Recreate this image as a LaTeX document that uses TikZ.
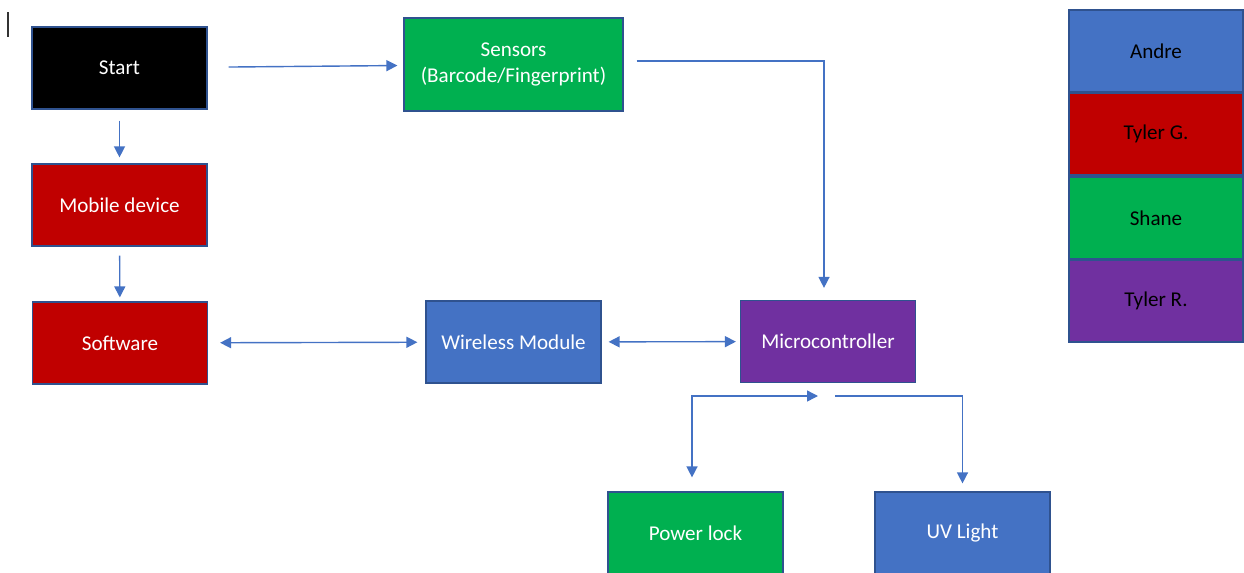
\documentclass[tikz,border=0pt]{standalone}
\usepackage{fontspec}
\setmainfont{Carlito}
\usetikzlibrary{arrows.meta}
\definecolor{offblue}{HTML}{4472C4}
\definecolor{offred}{HTML}{C00000}
\definecolor{offgreen}{HTML}{00B050}
\definecolor{offpurple}{HTML}{7030A0}
\definecolor{offedge}{HTML}{2F528F}
\begin{document}
\begin{tikzpicture}[x=0.02cm,y=-0.02cm]\fontsize{12}{14.5}\selectfont
      \tikzstyle{block}=[draw=offedge,line width=0.7pt,text=white,minimum width=3.5cm,minimum height=1.64cm,inner sep=2pt,align=center]
      \tikzstyle{member}=[block,text=black,minimum width=3.48cm,minimum height=1.64cm]
      \tikzstyle{link}=[draw=offblue,line width=0.8pt,-{Triangle[length=2.2mm,width=2.2mm]}]
      \tikzstyle{dlink}=[link,{Triangle[length=2.2mm,width=2.2mm]}-{Triangle[length=2.2mm,width=2.2mm]}]
      \useasboundingbox (0,0) rectangle (1244,572);
      \draw[line width=0.6pt,black!80] (8,12) -- (8,37);
      \node[block,fill=black] (start) at (119.5,68) {Start};
      \node[block,fill=offgreen,minimum width=4.38cm,minimum height=1.86cm] (sensors) at (513.5,64.5) {Sensors\\(Barcode/Fingerprint)};
      \node[block,fill=offred] (mobile) at (119.5,205) {Mobile device};
      \node[block,fill=offred] (software) at (120,343) {Software};
      \node[block,fill=offblue] (wireless) at (513.5,342) {Wireless Module};
      \node[block,fill=offpurple] (micro) at (828,341.5) {Microcontroller};
      \node[block,fill=offgreen] (lock) at (695.5,533) {Power lock};
      \node[block,fill=offblue] (uv) at (962.5,533) {UV Light};
      \node[member,fill=offblue] (andre) at (1156,51) {Andre};
      \node[member,fill=offred] (tylerg) at (1156,134) {Tyler G.};
      \node[member,fill=offgreen] (shane) at (1156,218) {Shane};
      \node[member,fill=offpurple] (tylerr) at (1156,301) {Tyler R.};
      \coordinate (splitl) at (818,396);
      \coordinate (splitr) at (835,396);
      \draw[link,shorten <=0.42cm,shorten >=0.12cm] (start) -- (sensors);
      \draw[link,shorten <=0.22cm,shorten >=0.12cm] (start) -- (mobile);
      \draw[link,shorten <=0.18cm,shorten >=0.08cm] (mobile) -- (software);
      \draw[link,shorten <=0.26cm,shorten >=0.24cm] ([yshift=0.07cm]sensors.east) -| ([xshift=-0.08cm]micro.north);
      \draw[dlink,shorten <=0.24cm,shorten >=0.16cm] (software) -- (wireless);
      \draw[dlink,shorten <=0.14cm,shorten >=0.08cm] (wireless) -- (micro);
      \draw[dlink,shorten >=0.28cm] (splitl) -| ([xshift=-0.07cm]lock.north);
      \draw[link,shorten >=0.16cm] (splitr) -| (uv.north);
      \end{tikzpicture}
\end{document}
